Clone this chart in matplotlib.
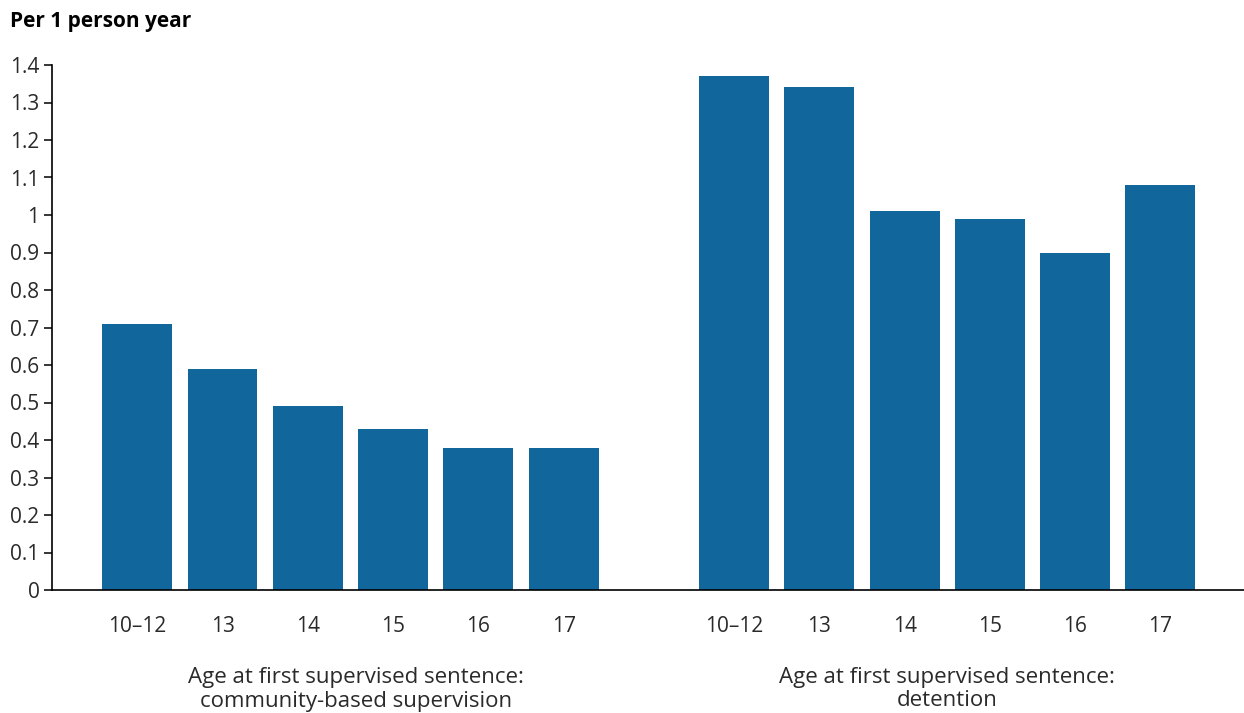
import numpy as np
import matplotlib
matplotlib.use("Agg")
import matplotlib.pyplot as plt
from matplotlib.ticker import FuncFormatter, MultipleLocator
from matplotlib.transforms import blended_transform_factory

# data
ages = ["10–12", "13", "14", "15", "16", "17"]
community = [0.71, 0.59, 0.49, 0.43, 0.38, 0.38]
detention = [1.37, 1.34, 1.01, 0.99, 0.90, 1.08]
group_labels = [
    ("Age at first supervised sentence:", "community-based supervision"),
    ("Age at first supervised sentence:", "detention"),
]
y_title = "Per 1 person year"

plt.rcParams["font.family"] = ["Open Sans", "DejaVu Sans"]
bar_color = "#11679b"
text_color = "#2a2a2a"

fig = plt.figure(figsize=(12.44, 7.13), dpi=100)
ax = fig.add_axes([52 / 1244, 123 / 713, 1 - 52 / 1244, (590 - 65) / 713])

x_comm = np.arange(len(ages))
x_det = np.arange(len(ages)) + len(ages) + 1
ax.bar(x_comm, community, width=0.82, color=bar_color)
ax.bar(x_det, detention, width=0.82, color=bar_color)

ax.set_xlim(-1.0, 12.98)
ax.set_ylim(0, 1.4)
ax.yaxis.set_major_locator(MultipleLocator(0.1))
ax.yaxis.set_major_formatter(FuncFormatter(lambda v, p: f"{round(v, 1):g}"))

ax.set_xticks(list(x_comm) + list(x_det))
ax.set_xticklabels(ages + ages)

for s in ["top", "right"]:
    ax.spines[s].set_visible(False)
for s in ["left", "bottom"]:
    ax.spines[s].set_linewidth(1.2)
    ax.spines[s].set_color("black")

ax.tick_params(axis="x", length=0, pad=19, labelsize=15, labelcolor=text_color)
ax.tick_params(axis="y", length=6, width=1.1, pad=3, labelsize=15, labelcolor=text_color)

# group captions under the age labels
trans = blended_transform_factory(ax.transData, fig.transFigure)
centers = [2.57, 9.5]
for cx, (line1, line2) in zip(centers, group_labels):
    ax.text(cx, 1 - 678 / 713, line1, transform=trans, ha="center", va="center",
            fontsize=16, color=text_color)
    ax.text(cx, 1 - 701 / 713, line2, transform=trans, ha="center", va="center",
            fontsize=16, color=text_color)

fig.text(10 / 1244, 1 - 22 / 713, y_title, ha="left", va="center",
         fontsize=15, fontweight="bold", color="black")

fig.savefig("out.png", dpi=100)
